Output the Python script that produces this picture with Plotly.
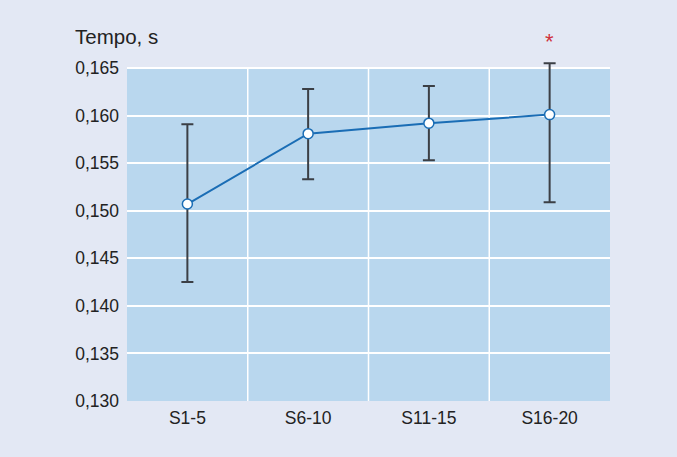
import plotly.graph_objects as go

# Reaction time per session block
categories = ["S1-5", "S6-10", "S11-15", "S16-20"]
mean_time = [0.1507, 0.1581, 0.1592, 0.1601]
upper_time = [0.1591, 0.1628, 0.1631, 0.1655]
lower_time = [0.1425, 0.1533, 0.1553, 0.1509]
significant = [False, False, False, True]
y_ticks = [0.130, 0.135, 0.140, 0.145, 0.150, 0.155, 0.160, 0.165]

x_pos = list(range(len(categories)))
err_plus = [u - m for u, m in zip(upper_time, mean_time)]
err_minus = [m - l for m, l in zip(mean_time, lower_time)]

PAPER = "#e3e8f4"
PANEL = "#b9d7ee"
y_lo, y_hi = y_ticks[0], y_ticks[-1]
# headroom above the panel for whiskers and significance stars
y_top = y_hi + (y_hi - y_lo) * 48 / 333

fig = go.Figure()

# blue panel limited to the tick range
fig.add_shape(type="rect", xref="x", yref="y", x0=-0.5, x1=3.5, y0=y_lo, y1=y_hi,
              fillcolor=PANEL, line=dict(width=0), layer="below")
# vertical separators between categories
for b in [i + 0.5 for i in x_pos[:-1]]:
    fig.add_shape(type="line", xref="x", yref="y", x0=b, x1=b, y0=y_lo, y1=y_hi,
                  line=dict(color="white", width=1.5), layer="between")

fig.add_trace(go.Scatter(
    x=x_pos, y=mean_time,
    mode="lines+markers",
    line=dict(color="#1a6db5", width=2),
    marker=dict(size=10, color="white", line=dict(color="#1a6db5", width=1.5)),
    error_y=dict(type="data", symmetric=False, array=err_plus, arrayminus=err_minus,
                 color="#3b3f45", thickness=2, width=6),
    showlegend=False,
))

# significance markers above the upper whisker
for xi, flag, top in zip(x_pos, significant, upper_time):
    if flag:
        fig.add_annotation(x=xi, y=top, xref="x", yref="y", text="*", showarrow=False,
                           yanchor="bottom", yshift=7,
                           font=dict(color="#d0323c", size=22,
                                     family="Liberation Sans, Arial"))

fig.add_annotation(text="Tempo, s", xref="paper", yref="paper", x=-0.112, y=0.958,
                   xanchor="left", yanchor="middle", showarrow=False,
                   font=dict(size=20.5, color="#222222", family="Liberation Sans, Arial"))

fig.update_layout(
    width=677, height=457,
    margin=dict(l=127, r=67, t=20, b=56),
    paper_bgcolor=PAPER,
    plot_bgcolor=PAPER,
    separators=",.",
    font=dict(family="Liberation Sans, Arial", size=17.5, color="#222222"),
    xaxis=dict(range=[-0.5, 3.5], tickvals=x_pos, ticktext=categories,
               showgrid=False, zeroline=False, showline=False, ticks="",
               ticklabelstandoff=4),
    yaxis=dict(range=[y_lo, y_top], tickvals=y_ticks, tickformat=".3f",
               showgrid=True, gridcolor="white", gridwidth=1.5, zeroline=False,
               showline=False, ticks="", ticklabelstandoff=7),
)

fig.write_html("out.html")
